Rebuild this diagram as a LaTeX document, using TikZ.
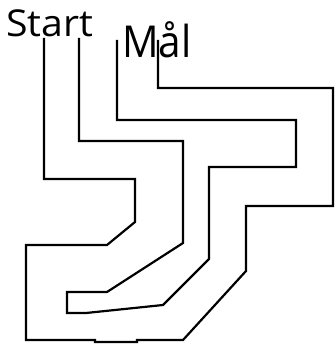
\documentclass[tikz,border=0pt]{standalone}
\usepackage{fontspec}
\setmainfont{Open Sans}
\begin{document}
\begin{tikzpicture}[x=1pt,y=-1pt,
  wall/.style={line width=2.2pt, line join=miter},
  lbl/.style={inner sep=0pt, anchor=base west}]
\useasboundingbox (0,0) rectangle (335,345);
\node[lbl, font=\fontsize{37}{40}\selectfont, xscale=1.06] (start) at (6,37) {Start};
\node[lbl, font=\fontsize{44}{48}\selectfont, xscale=0.92] (mal) at (122,57) {Mål};
% outer wall from Start to Mål
\draw[wall] (44,38) -- (44,179) -- (135,179) -- (135,222) -- (107,245) -- (26,245)
  -- (26,340) -- (95,340) -- (95,342) -- (137,342) -- (137,340) -- (183,340)
  -- (246,271) -- (246,206) -- (333,206) -- (333,88)
  -- (158,88) -- (158,40);
% inner wall
\draw[wall] (79,38) -- (79,141) -- (183,141) -- (183,243) -- (107,292) -- (67,292)
  -- (67,313) -- (86,313) -- (163,305) -- (209,259) -- (209,167) -- (296,167) -- (296,120)
  -- (117,120) -- (117,40);
\end{tikzpicture}
\end{document}
